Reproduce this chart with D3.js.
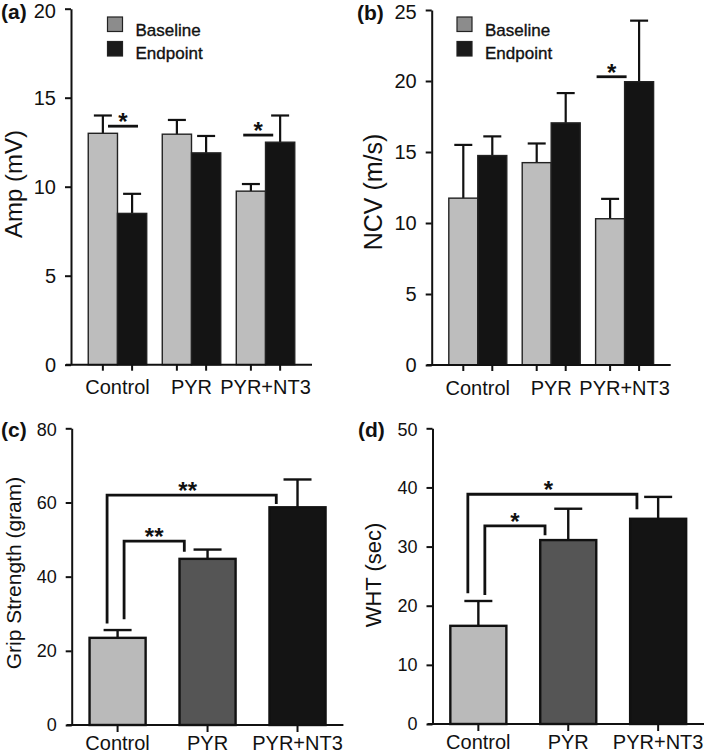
<!DOCTYPE html>
<html>
<head>
<meta charset="utf-8">
<script src="https://cdn.jsdelivr.net/npm/d3@7"></script>
<style>
  html, body { margin: 0; padding: 0; background: #ffffff; }
  svg { display: block; }
  text { font-family: "Liberation Sans", Arial, Helvetica, sans-serif; fill: #111; }
</style>
</head>
<body>
<svg id="chart" width="709" height="754"></svg>
<script>
// ---------------- DATA ----------------
const groups = ["Control", "PYR", "PYR+NT3"];
const seriesNames = ["Baseline", "Endpoint"];

// (a) Amplitude (mV)
const ampBaseline = [13.0, 12.95, 9.75];
const ampBaselineErr = [1.0, 0.8, 0.4];
const ampEndpoint = [8.5, 11.9, 12.5];
const ampEndpointErr = [1.1, 0.95, 1.5];
const ampTicks = [0, 5, 10, 15, 20];
const ampSig = [
  { group: "Control", value: 13.4, label: "*" },
  { group: "PYR+NT3", value: 12.9, label: "*" }
];

// (b) NCV (m/s)
const ncvBaseline = [11.75, 14.25, 10.3];
const ncvBaselineErr = [3.75, 1.35, 1.4];
const ncvEndpoint = [14.75, 17.05, 19.95];
const ncvEndpointErr = [1.35, 2.1, 4.3];
const ncvTicks = [0, 5, 10, 15, 20, 25];
const ncvSig = [
  { group: "PYR+NT3", value: 20.3, label: "*" }
];

// (c) Grip strength (gram)
const gripValues = [23.5, 44.8, 58.7];
const gripErr = [2.1, 2.5, 7.5];
const gripTicks = [0, 20, 40, 60, 80];
const gripBrackets = [
  { from: "Control", to: "PYR", value: 49.6, fromEnd: 28.5, toEnd: 46.7, label: "**" },
  { from: "Control", to: "PYR+NT3", value: 62.0, fromEnd: 27.4, toEnd: 59.6, label: "**" }
];

// (d) WHT (sec)
const whtValues = [16.6, 31.1, 34.7];
const whtErr = [4.2, 5.3, 3.7];
const whtTicks = [0, 10, 20, 30, 40, 50];
const whtBrackets = [
  { from: "Control", to: "PYR", value: 33.5, fromEnd: 21.8, toEnd: 31.9, label: "*" },
  { from: "Control", to: "PYR+NT3", value: 38.85, fromEnd: 22.1, toEnd: 36.3, label: "*" }
];

// ---------------- DRAWING ----------------
const svg = d3.select("#chart");
const FONT = '"Liberation Sans", Arial, Helvetica, sans-serif';

function yAxis(g, y, ticks, fs) {
  const ax = g.append("g")
    .call(d3.axisLeft(y).tickValues(ticks).tickSize(6).tickSizeOuter(0).tickPadding(9).tickFormat(d3.format("d")));
  ax.select(".domain").attr("stroke", "#111").attr("stroke-width", 2);
  ax.selectAll(".tick line").attr("stroke", "#111").attr("stroke-width", 2);
  ax.selectAll(".tick text").attr("font-size", fs).attr("font-family", FONT).attr("fill", "#111");
  // keep the topmost label inside the picture
  ax.selectAll(".tick text").filter(d => d === ticks[ticks.length - 1]).attr("dy", "0.42em");
  return ax;
}

function groupedPanel(opt) {
  const g = svg.append("g");
  const y = d3.scaleLinear().domain([opt.ticks[0], opt.ticks[opt.ticks.length - 1]]).range([opt.bottom, opt.top]);
  const x0 = d3.scaleBand().domain(groups).range([opt.left, opt.left + opt.width]).paddingInner(0.21).paddingOuter(0.233);
  const x1 = d3.scaleBand().domain(seriesNames).range([0, x0.bandwidth()]);
  const rows = [];
  groups.forEach((grp, i) => {
    rows.push({ group: grp, series: "Baseline", v: opt.base[i], e: opt.baseErr[i] });
    rows.push({ group: grp, series: "Endpoint", v: opt.end[i], e: opt.endErr[i] });
  });
  const color = d3.scaleOrdinal().domain(seriesNames).range(["#bdbdbd", "#141414"]);
  const cx = d => x0(d.group) + x1(d.series) + x1.bandwidth() / 2;

  // error bars (upward only)
  g.selectAll("line.err").data(rows).join("line")
    .attr("x1", cx).attr("x2", cx)
    .attr("y1", d => y(d.v)).attr("y2", d => y(d.v + d.e))
    .attr("stroke", "#111").attr("stroke-width", 2.2);
  g.selectAll("line.cap").data(rows).join("line")
    .attr("x1", d => cx(d) - 9).attr("x2", d => cx(d) + 9)
    .attr("y1", d => y(d.v + d.e)).attr("y2", d => y(d.v + d.e))
    .attr("stroke", "#111").attr("stroke-width", 2.2);

  // bars
  g.selectAll("rect.bar").data(rows).join("rect")
    .attr("x", d => x0(d.group) + x1(d.series))
    .attr("y", d => y(d.v))
    .attr("width", x1.bandwidth())
    .attr("height", d => y(0) - y(d.v))
    .attr("fill", d => color(d.series))
    .attr("stroke", "#222").attr("stroke-width", 1.4);

  // y axis
  yAxis(g.append("g").attr("transform", `translate(${opt.left},0)`), y, opt.ticks, 20);

  // x axis line
  g.append("line").attr("x1", opt.left - 5).attr("x2", opt.left + opt.width)
    .attr("y1", y(0)).attr("y2", y(0)).attr("stroke", "#111").attr("stroke-width", 2);
  g.selectAll("line.xt").data(rows).join("line")
    .attr("x1", cx).attr("x2", cx).attr("y1", y(0)).attr("y2", y(0) + 6)
    .attr("stroke", "#111").attr("stroke-width", 2);
  g.selectAll("text.xl").data(groups).join("text")
    .attr("x", d => x0(d) + x0.bandwidth() / 2)
    .attr("y", y(0) + 29.5)
    .attr("text-anchor", "middle").attr("font-size", 20).text(d => d);

  // significance lines
  opt.sig.forEach(s => {
    const xs = x0(s.group) + x0.bandwidth() / 2 + s.shift;
    g.append("line").attr("x1", xs - 15).attr("x2", xs + 15)
      .attr("y1", y(s.value)).attr("y2", y(s.value))
      .attr("stroke", "#111").attr("stroke-width", 2.8);
    g.append("text").attr("x", xs).attr("y", y(s.value) + 4)
      .attr("text-anchor", "middle").attr("font-size", 24).attr("font-weight", "bold").text(s.label);
  });

  // legend
  const lg = g.append("g");
  const legendFill = d3.scaleOrdinal().domain(seriesNames).range(["#8c8c8c", "#1a1a1a"]);
  seriesNames.forEach((s, i) => {
    lg.append("rect").attr("x", opt.legX).attr("y", 17 + i * 24.5).attr("width", 15).attr("height", 14.5)
      .attr("fill", legendFill(s)).attr("stroke", "#222").attr("stroke-width", 1.2);
    lg.append("text").attr("x", opt.legX + 28).attr("y", 35.5 + i * 23).attr("font-size", 17)
      .attr("stroke", "#111").attr("stroke-width", 0.35).text(s);
  });

  // y title
  g.append("text").attr("transform", `translate(${opt.titleX},${opt.titleY}) rotate(-90)`)
    .attr("text-anchor", "middle").attr("dy", "0.35em").attr("font-size", opt.titleSize).text(opt.title);
  // panel label
  g.append("text").attr("x", opt.labX).attr("y", opt.labY).attr("font-size", 21).attr("font-weight", "bold").text(opt.panel);
}

function singlePanel(opt) {
  const g = svg.append("g");
  const y = d3.scaleLinear().domain([opt.ticks[0], opt.ticks[opt.ticks.length - 1]]).range([opt.bottom, opt.top]);
  const x = d3.scaleBand().domain(groups).range([opt.left, opt.left + opt.width]).paddingInner(0.35).paddingOuter(0.185);
  const fill = d3.scaleOrdinal().domain(groups).range(["#bababa", "#555555", "#141414"]);
  const rows = groups.map((grp, i) => ({ group: grp, v: opt.values[i], e: opt.err[i] }));
  const cx = d => x(d.group) + x.bandwidth() / 2;

  g.selectAll("line.err").data(rows).join("line")
    .attr("x1", cx).attr("x2", cx).attr("y1", d => y(d.v)).attr("y2", d => y(d.v + d.e))
    .attr("stroke", "#111").attr("stroke-width", 2.4);
  g.selectAll("line.cap").data(rows).join("line")
    .attr("x1", d => cx(d) - 14).attr("x2", d => cx(d) + 14)
    .attr("y1", d => y(d.v + d.e)).attr("y2", d => y(d.v + d.e))
    .attr("stroke", "#111").attr("stroke-width", 2.4);

  g.selectAll("rect.bar").data(rows).join("rect")
    .attr("x", d => x(d.group) + 1.2).attr("y", d => y(d.v))
    .attr("width", x.bandwidth() - 2.4).attr("height", d => y(0) - y(d.v))
    .attr("fill", d => fill(d.group)).attr("stroke", "#111").attr("stroke-width", 2.4);

  yAxis(g.append("g").attr("transform", `translate(${opt.left},0)`), y, opt.ticks, 18);

  g.append("line").attr("x1", opt.left - 5).attr("x2", opt.left + opt.width)
    .attr("y1", y(0)).attr("y2", y(0)).attr("stroke", "#111").attr("stroke-width", 2);
  g.selectAll("line.xt").data(rows).join("line")
    .attr("x1", cx).attr("x2", cx).attr("y1", y(0)).attr("y2", y(0) + 7)
    .attr("stroke", "#111").attr("stroke-width", 2);
  g.selectAll("text.xl").data(groups).join("text")
    .attr("x", d => x(d) + x.bandwidth() / 2).attr("y", y(0) + 25)
    .attr("text-anchor", "middle").attr("font-size", 20).text(d => d);

  // brackets
  opt.brackets.forEach((b, i) => {
    const outer = b.to === groups[2];
    const xa = x(b.from) + x.bandwidth() / 2 + (outer ? -10.5 : 6.5);
    const xb = x(b.to) + (outer ? 8 : 6);
    const pts = [[xa, y(b.fromEnd)], [xa, y(b.value)], [xb, y(b.value)], [xb, y(b.toEnd)]];
    g.append("path").attr("d", d3.line()(pts)).attr("fill", "none")
      .attr("stroke", "#111").attr("stroke-width", 2.8).attr("stroke-linejoin", "miter");
    g.append("text").attr("x", (xa + xb) / 2 - (outer ? 4 : 0)).attr("y", y(b.value) + 4)
      .attr("text-anchor", "middle").attr("font-size", 24).attr("font-weight", "bold").text(b.label);
  });

  g.append("text").attr("transform", `translate(${opt.titleX},${opt.titleY}) rotate(-90)`)
    .attr("text-anchor", "middle").attr("dy", "0.35em").attr("font-size", opt.titleSize).text(opt.title);
  g.append("text").attr("x", opt.labX).attr("y", opt.labY).attr("font-size", 21).attr("font-weight", "bold").text(opt.panel);
}

groupedPanel({
  base: ampBaseline, baseErr: ampBaselineErr, end: ampEndpoint, endErr: ampEndpointErr,
  ticks: ampTicks, sig: ampSig.map((s, i) => Object.assign({ shift: [5.5, -7.3][i] }, s)),
  left: 71, width: 241, top: 8.7, bottom: 364.7, legX: 107.5,
  title: "Amp (mV)", titleX: 13.5, titleY: 184, titleSize: 24,
  panel: "(a)", labX: 1, labY: 19
});
groupedPanel({
  base: ncvBaseline, baseErr: ncvBaselineErr, end: ncvEndpoint, endErr: ncvEndpointErr,
  ticks: ncvTicks, sig: ncvSig.map(s => Object.assign({ shift: -13 }, s)),
  left: 431.7, width: 239, top: 10, bottom: 365, legX: 457,
  title: "NCV (m/s)", titleX: 373.5, titleY: 192, titleSize: 25,
  panel: "(b)", labX: 357, labY: 20
});
singlePanel({
  values: gripValues, err: gripErr, ticks: gripTicks, brackets: gripBrackets,
  left: 71.7, width: 271.7, top: 428.3, bottom: 725,
  title: "Grip Strength (gram)", titleX: 13.5, titleY: 573, titleSize: 21,
  panel: "(c)", labX: 1, labY: 437
});
singlePanel({
  values: whtValues, err: whtErr, ticks: whtTicks, brackets: whtBrackets,
  left: 432.5, width: 271.5, top: 428.3, bottom: 724,
  title: "WHT (sec)", titleX: 373, titleY: 575, titleSize: 22,
  panel: "(d)", labX: 358, labY: 437
});
</script>
</body>
</html>
